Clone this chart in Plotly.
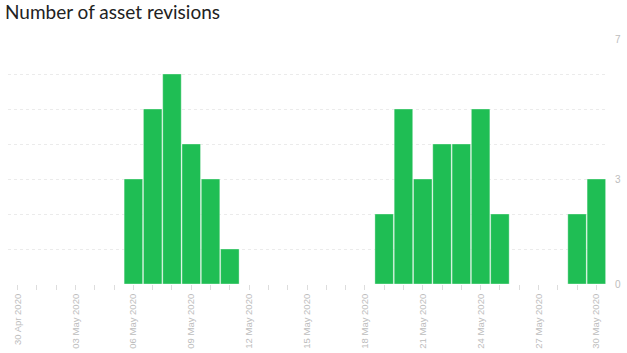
import plotly.graph_objects as go

dates = ["2020-05-06", "2020-05-07", "2020-05-08", "2020-05-09", "2020-05-10", "2020-05-11",
         "2020-05-19", "2020-05-20", "2020-05-21", "2020-05-22", "2020-05-23", "2020-05-24",
         "2020-05-25", "2020-05-29", "2020-05-30"]
revisions = [3, 5, 6, 4, 3, 1, 2, 5, 3, 4, 4, 5, 2, 2, 3]

y_tickvals = [0, 1, 2, 3, 4, 5, 6, 7]
y_ticktext = ["0", "", "", "3", "", "", "", "7"]

fig = go.Figure(go.Bar(
    x=dates, y=revisions,
    marker=dict(color="#1fbe54", line=dict(color="rgba(255,255,255,0.35)", width=1)),
))

fig.update_layout(
    width=627, height=353,
    margin=dict(l=8, r=21, t=39, b=69, autoexpand=False),
    paper_bgcolor="white", plot_bgcolor="white",
    bargap=0.04,
    showlegend=False,
    title=dict(text="Number of asset revisions", x=5/627, xanchor="left", xref="container",
               y=1 - 12/353, yanchor="middle", yref="container",
               font=dict(family="Lato", size=19, color="#222")),
    font=dict(family="Helvetica, Arial, Liberation Sans, sans-serif", color="#bbb", size=10),
)

fig.update_xaxes(
    type="date",
    range=["2020-04-29 12:00", "2020-05-30 12:00"],
    tick0="2020-04-30", dtick=3 * 86400000,
    tickformat="%d %b %Y", tickangle=-90,
    ticks="outside", ticklen=5, tickcolor="#ddd",
    minor=dict(dtick=86400000, ticks="outside", ticklen=5, tickcolor="#ddd", showgrid=False),
    showgrid=False, zeroline=False, showline=False, automargin=False,
    tickfont=dict(size=9.5, color="#bdbdbd"),
)

fig.update_yaxes(
    side="right", range=[0, 7],
    tickmode="array", tickvals=y_tickvals, ticktext=y_ticktext,
    showgrid=True, gridcolor="#ebebeb", griddash="dot", gridwidth=1,
    zeroline=False, showline=False, ticks="", automargin=False,
    ticklabelstandoff=8,
    tickfont=dict(size=10, color="#bdbdbd"),
)

fig.write_html("out.html")
